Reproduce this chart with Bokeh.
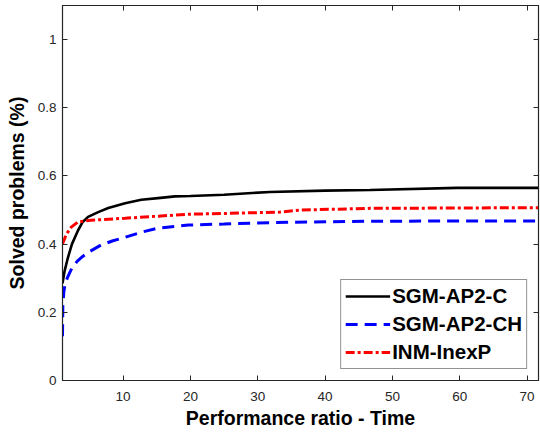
from bokeh.plotting import figure
from bokeh.models import (Range1d, FixedTicker, LinearAxis, CustomJSTickFormatter,
                          Legend, LegendItem)
from bokeh.embed import file_html
from bokeh.resources import INLINE

# ---- data ----
x_c = [1, 1.3, 1.8, 2.4, 3.3, 4, 4.8, 6.3, 7.8, 10.3, 12.7, 15.2, 17.7, 20, 25, 31.8, 40, 46.7, 59.6, 71.7]
y_c = [0.285, 0.32, 0.36, 0.40, 0.44, 0.465, 0.48, 0.494, 0.506, 0.52, 0.53, 0.535, 0.54, 0.541, 0.545,
       0.553, 0.557, 0.559, 0.565, 0.565]

x_ch = [1, 1.05, 1.2, 1.4, 1.8, 2.4, 3.2, 4, 5, 6.7, 8.5, 10.3, 12.7, 15.2, 19.7, 25, 29.9, 37.3, 46.7, 60, 71.7]
y_ch = [0.13, 0.22, 0.26, 0.285, 0.305, 0.33, 0.35, 0.364, 0.378, 0.397, 0.41, 0.42, 0.435, 0.447, 0.456,
        0.459, 0.462, 0.465, 0.467, 0.468, 0.468]

x_inm = [1, 1.1, 1.6, 2.3, 3.3, 5.2, 10.3, 15.2, 20, 25, 33.3, 36.3, 46.7, 60, 71.7]
y_inm = [0.40, 0.406, 0.43, 0.45, 0.465, 0.47, 0.476, 0.482, 0.488, 0.49, 0.494, 0.50, 0.505, 0.506, 0.507]

x_ticks = [10, 20, 30, 40, 50, 60, 70]
y_ticks = [0, 0.2, 0.4, 0.6, 0.8, 1]
names = ["SGM-AP2-C", "SGM-AP2-CH", "INM-InexP"]

FONT = "Liberation Sans"

p = figure(width=540, height=433, output_backend="svg", toolbar_location=None,
           x_range=Range1d(1, 71.7), y_range=Range1d(0, 1.1),
           min_border_left=62, min_border_right=2, min_border_top=5, min_border_bottom=53)
p.background_fill_color = "white"
p.border_fill_color = "white"
p.outline_line_color = "#262626"
p.outline_line_width = 1.2
p.grid.visible = False

fmt = CustomJSTickFormatter(code="return String(Math.round(tick*10)/10);")
blank = CustomJSTickFormatter(code="return '';")

for ax, ticks in ((p.xaxis[0], x_ticks), (p.yaxis[0], y_ticks)):
    ax.ticker = FixedTicker(ticks=ticks)
    ax.formatter = fmt
    ax.major_tick_in = 5
    ax.major_tick_out = 0
    ax.minor_tick_line_color = None
    ax.axis_line_color = "#262626"
    ax.major_tick_line_color = "#262626"
    ax.major_label_text_font = FONT
    ax.major_label_text_font_size = "13.5px"
    ax.major_label_text_color = "#262626"
    ax.axis_label_text_font = FONT
    ax.axis_label_text_font_style = "bold"
    ax.axis_label_text_font_size = "19.5px"
    ax.axis_label_text_color = "black"

p.xaxis[0].axis_label = "Performance ratio - Time"
p.yaxis[0].axis_label = "Solved problems (%)"
p.xaxis[0].major_label_standoff = 11
p.yaxis[0].major_label_standoff = 6
p.xaxis[0].axis_label_standoff = 3
p.yaxis[0].axis_label_standoff = 7

for loc, ticks in (("above", x_ticks), ("right", y_ticks)):
    ax = LinearAxis(ticker=FixedTicker(ticks=ticks), formatter=blank,
                    major_tick_in=5, major_tick_out=0,
                    minor_tick_line_color=None,
                    axis_line_color="#262626", major_tick_line_color="#262626",
                    major_label_standoff=0)
    p.add_layout(ax, loc)

r1 = p.line(x_c, y_c, line_color="black", line_width=2.6)
r2 = p.line(x_ch, y_ch, line_color="#0000ff", line_width=3, line_dash="12 7")
r3 = p.line(x_inm, y_inm, line_color="#ff0000", line_width=3, line_dash="9 3 3 3")

legend = Legend(items=[LegendItem(label=names[0], renderers=[r1]),
                       LegendItem(label=names[1], renderers=[r2]),
                       LegendItem(label=names[2], renderers=[r3])],
                location="bottom_right")
legend.label_text_font = FONT
legend.label_text_font_style = "bold"
legend.label_text_font_size = "20.5px"
legend.label_text_color = "black"
legend.glyph_width = 45
legend.glyph_height = 22
legend.label_height = 22
legend.spacing = 4
legend.padding = 4
legend.margin = 11
legend.label_standoff = 2
legend.border_line_color = "#262626"
legend.border_line_width = 1
legend.background_fill_alpha = 1
p.add_layout(legend)

open("out.html", "w").write(file_html(p, INLINE))
